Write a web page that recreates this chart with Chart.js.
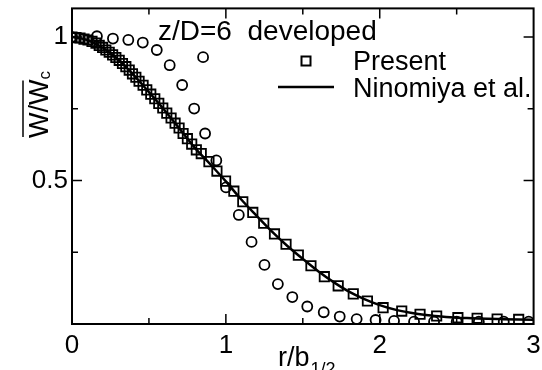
<!DOCTYPE html>
<html><head><meta charset="utf-8">
<script src="https://cdn.jsdelivr.net/npm/chart.js@4/dist/chart.umd.min.js"></script>
<style>html,body{margin:0;padding:0;background:#fff}canvas{display:block}</style>
</head><body>
<canvas id="c" width="542" height="370" style="width:542px;height:370px"></canvas>
<script>
// ---- data ----
const presentR = [0,0.026,0.052,0.078,0.104,0.13,0.156,0.177,0.199,0.22,0.242,0.264,0.285,0.307,0.328,0.35,0.372,0.393,0.415,0.436,0.462,0.486,0.512,0.538,0.564,0.59,0.616,0.644,0.67,0.696,0.722,0.75,0.778,0.808,0.84,0.89,0.942,0.998,1.052,1.11,1.175,1.246,1.316,1.391,1.471,1.553,1.64,1.73,1.828,1.92,2.022,2.143,2.262,2.37,2.508,2.633,2.763,2.903];
const presentW = [1.0,0.998,0.997,0.993,0.99,0.985,0.979,0.971,0.964,0.955,0.947,0.938,0.929,0.919,0.908,0.897,0.885,0.872,0.86,0.846,0.832,0.816,0.801,0.785,0.769,0.753,0.735,0.718,0.70,0.683,0.664,0.646,0.627,0.607,0.594,0.566,0.533,0.498,0.463,0.426,0.389,0.351,0.314,0.278,0.24,0.203,0.165,0.133,0.105,0.08,0.057,0.045,0.034,0.028,0.022,0.02,0.017,0.016];
const circleR = [0,0.162,0.266,0.366,0.46,0.551,0.635,0.716,0.794,0.852,0.865,0.938,1.001,1.084,1.167,1.251,1.338,1.432,1.529,1.636,1.74,1.85,1.973,2.093,2.223,2.353,2.5,2.644,2.806,2.968];
const circleW = [1.0,1.003,0.995,0.99,0.981,0.955,0.902,0.833,0.751,0.93,0.664,0.57,0.476,0.38,0.286,0.206,0.139,0.094,0.061,0.041,0.026,0.017,0.014,0.011,0.008,0.008,0.008,0.008,0.008,0.008];
const ninomiyaR = [0,0.1,0.2,0.3,0.4,0.5,0.6,0.7,0.8,0.9,1.0,1.1,1.2,1.3,1.4,1.5,1.6,1.7,1.8,1.9,2.0,2.1,2.2,2.3,2.4,2.5,2.6,2.7,2.8,2.9,3.0];
const ninomiyaW = [1.0,0.99,0.963,0.922,0.868,0.808,0.746,0.68,0.613,0.556,0.497,0.434,0.377,0.322,0.272,0.227,0.184,0.146,0.113,0.087,0.066,0.05,0.039,0.031,0.026,0.022,0.02,0.018,0.017,0.016,0.015];
const xTickLabels = [0,1,2,3];
const yTickLabels = [0.5,1];
const xMinorTicks = [0.5,1,1.5,2,2.5];
const yMinorTicks = [0.25,0.5,0.75,1];
const seriesNames = ['Ninomiya et al.','Present',''];
const titleText = 'z/D=6  developed';

const FONT = '"Liberation Sans", Arial, Helvetica, sans-serif';
const zip = (a,b)=>a.map((v,i)=>({x:v,y:b[i]}));

const decor = {
  id:'decor',
  afterDraw(chart){
    const ctx = chart.ctx, a = chart.chartArea;
    const xs = chart.scales.x, ys = chart.scales.y;
    ctx.save();
    ctx.strokeStyle = '#000'; ctx.fillStyle = '#000';
    // frame
    ctx.lineWidth = 2;
    ctx.strokeRect(a.left, a.top, a.right - a.left, a.bottom - a.top);
    // inward ticks
    ctx.lineWidth = 1.5;
    ctx.beginPath();
    xMinorTicks.forEach(v=>{
      const px = xs.getPixelForValue(v);
      const L = Number.isInteger(v) ? 10 : 6;
      ctx.moveTo(px, a.bottom); ctx.lineTo(px, a.bottom - L);
      ctx.moveTo(px, a.top); ctx.lineTo(px, a.top + L);
    });
    yMinorTicks.forEach(v=>{
      const py = ys.getPixelForValue(v);
      const L = (v*2)%1===0 ? 10 : 6;
      ctx.moveTo(a.left, py); ctx.lineTo(a.left + L, py);
      ctx.moveTo(a.right, py); ctx.lineTo(a.right - L, py);
    });
    ctx.stroke();
    // title
    ctx.font = '28px ' + FONT;
    ctx.textBaseline = 'alphabetic'; ctx.textAlign = 'left';
    ctx.fillText(titleText, 158, 40);
    // legend
    ctx.font = '27px ' + FONT;
    ctx.lineWidth = 2;
    ctx.strokeRect(306 - 4.5, 61 - 4.5, 9, 9);
    ctx.fillText(seriesNames[1], 353, 70);
    ctx.lineWidth = 2.5;
    ctx.beginPath(); ctx.moveTo(278, 87); ctx.lineTo(334, 87); ctx.stroke();
    ctx.fillText(seriesNames[0], 353, 97);
    // x-axis title r/b_{1/2}
    ctx.font = '27px ' + FONT;
    ctx.fillText('r/b', 278, 366);
    const wrb = ctx.measureText('r/b').width;
    ctx.font = '18px ' + FONT;
    ctx.fillText('1/2', 278 + wrb + 1, 375);
    // y-axis title  (overlined W / W, subscript c)
    ctx.save();
    ctx.translate(48, 138);
    ctx.rotate(-Math.PI/2);
    ctx.font = '27px ' + FONT;
    const wW = ctx.measureText('W').width, wS = ctx.measureText('/').width;
    ctx.fillText('W', 0, 0);
    ctx.fillText('/', wW, 0);
    ctx.fillText('W', wW + wS, 0);
    ctx.font = '17px ' + FONT;
    ctx.fillText('c', 2*wW + wS, 2);
    ctx.lineWidth = 1.5;
    ctx.beginPath();
    ctx.moveTo(1, -25); ctx.lineTo(2*wW + wS - 1, -25);
    ctx.stroke();
    ctx.restore();
    ctx.restore();
  }
};

new Chart(document.getElementById('c'), {
  type: 'scatter',
  data: {
    datasets: [
      { label: seriesNames[0], data: zip(ninomiyaR, ninomiyaW), showLine: true,
        borderColor: '#000', borderWidth: 2.5, pointRadius: 0, cubicInterpolationMode: 'monotone', fill: false },
      { label: seriesNames[1], data: zip(presentR, presentW), showLine: false,
        pointStyle: 'rect', pointRadius: 6.6, borderColor: '#000', backgroundColor: 'rgba(255,255,255,0)', pointBorderWidth: 1.8 },
      { label: seriesNames[2], data: zip(circleR, circleW), showLine: false,
        pointStyle: 'circle', pointRadius: 5, borderColor: '#000', backgroundColor: 'rgba(255,255,255,0)', pointBorderWidth: 1.8 }
    ]
  },
  options: {
    responsive: false, animation: false, devicePixelRatio: 1,
    layout: { padding: { left: 0, right: 8, top: 8, bottom: 0 } },
    plugins: { legend: { display: false }, tooltip: { enabled: false } },
    scales: {
      x: {
        type: 'linear', min: 0, max: 3,
        grid: { display: false, drawTicks: false }, border: { display: false },
        afterBuildTicks: s => { s.ticks = xTickLabels.map(v=>({value:v})); },
        ticks: { color: '#000', font: { family: FONT, size: 26 }, padding: 6, maxRotation: 0,
                 callback: v => String(v) },
        afterFit: s => { s.height = 46; s.paddingLeft = 0; s.paddingRight = 0; }
      },
      y: {
        type: 'linear', min: 0, max: 1.1,
        grid: { display: false, drawTicks: false }, border: { display: false },
        afterBuildTicks: s => { s.ticks = yTickLabels.map(v=>({value:v})); },
        ticks: { color: '#000', font: { family: FONT, size: 26 }, padding: 4,
                 callback: v => String(v) },
        afterFit: s => { s.width = 72; s.paddingTop = 0; s.paddingBottom = 0; }
      }
    }
  },
  plugins: [decor]
});
</script>
</body></html>
